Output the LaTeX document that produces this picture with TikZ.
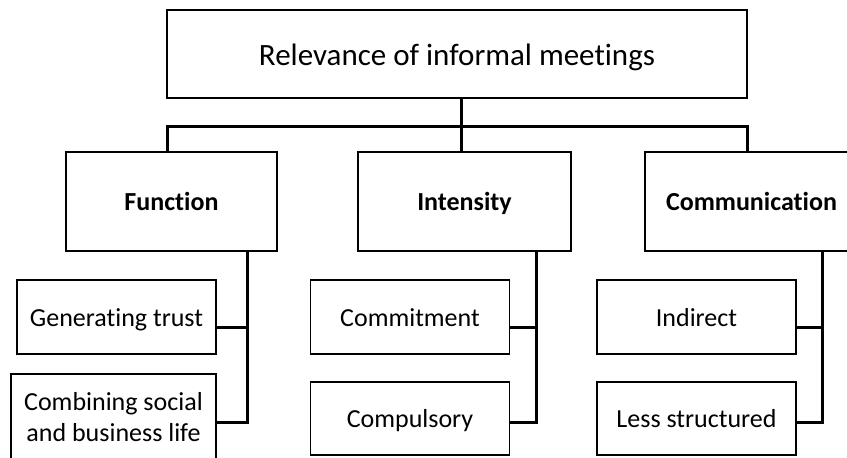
\documentclass[tikz,border=0pt]{standalone}
\usepackage{fontspec}
\setmainfont{Carlito}[Ligatures=NoCommon]
\begin{document}
\begin{tikzpicture}[x=1pt,y=-1pt,
  topbox/.style={draw, line width=1.5pt, minimum width=580pt, minimum height=88pt, inner sep=0pt, text height=22pt, text depth=0pt, font=\fontsize{31}{36}\selectfont},
  catbox/.style={draw, line width=2.3pt, minimum height=99pt, inner sep=0pt, text height=18pt, text depth=0pt, font=\bfseries\fontsize{26}{30}\selectfont},
  kidframe/.style={draw, line width=1.3pt, minimum width=199pt, minimum height=74pt, inner sep=0pt, font=\fontsize{26}{31}\selectfont},
  kidbox/.style={kidframe, text height=18pt, text depth=0pt},
  conn/.style={line width=3pt}]
\useasboundingbox (0,0) rectangle (847,458);
\node[topbox] (top) at (457,54) {Relevance of informal meetings};
\node[catbox, minimum width=211pt] (func) at (171.5,201.5) {Function};
\node[catbox, minimum width=213pt] (inten) at (464.5,201.5) {Intensity};
\node[catbox, minimum width=213pt] (comm) at (751.5,201.5) {Communication};
\node[kidbox] (gen) at (116.5,317) {Generating trust};
\node[kidframe, align=center, minimum width=205pt, minimum height=87pt] (comb) at (113.5,417.5) {Combining social\\and business life};
\node[kidbox] (commit) at (410,317) {Commitment};
\node[kidbox, minimum height=73pt] (compul) at (410,418.5) {Compulsory};
\node[kidbox] (indir) at (696.5,317) {Indirect};
\node[kidbox, minimum height=73pt] (less) at (696.5,418.5) {Less structured};
% upper tree
\coordinate (fdrop) at (167,126);
\coordinate (idrop) at (461,126);
\coordinate (cdrop) at (747,126);
\draw[conn] (fdrop |- func.north) -- (fdrop) -- (cdrop) -- (cdrop |- comm.north);
\draw[conn] (idrop |- top.south) -- (idrop |- inten.north);
% lower connectors
\coordinate (fv) at (247,327);
\coordinate (fv2) at (247,422);
\draw[conn] (fv |- func.south) -- (fv2) -- (fv2 -| comb.east);
\draw[conn] (gen.east |- fv) -- (fv);
\coordinate (iv) at (536,327);
\coordinate (iv2) at (536,422);
\draw[conn] (iv |- inten.south) -- (iv2) -- (iv2 -| compul.east);
\draw[conn] (commit.east |- iv) -- (iv);
\coordinate (cv) at (822,327);
\coordinate (cv2) at (822,422);
\draw[conn] (cv |- comm.south) -- (cv2) -- (cv2 -| less.east);
\draw[conn] (indir.east |- cv) -- (cv);
\end{tikzpicture}
\end{document}
